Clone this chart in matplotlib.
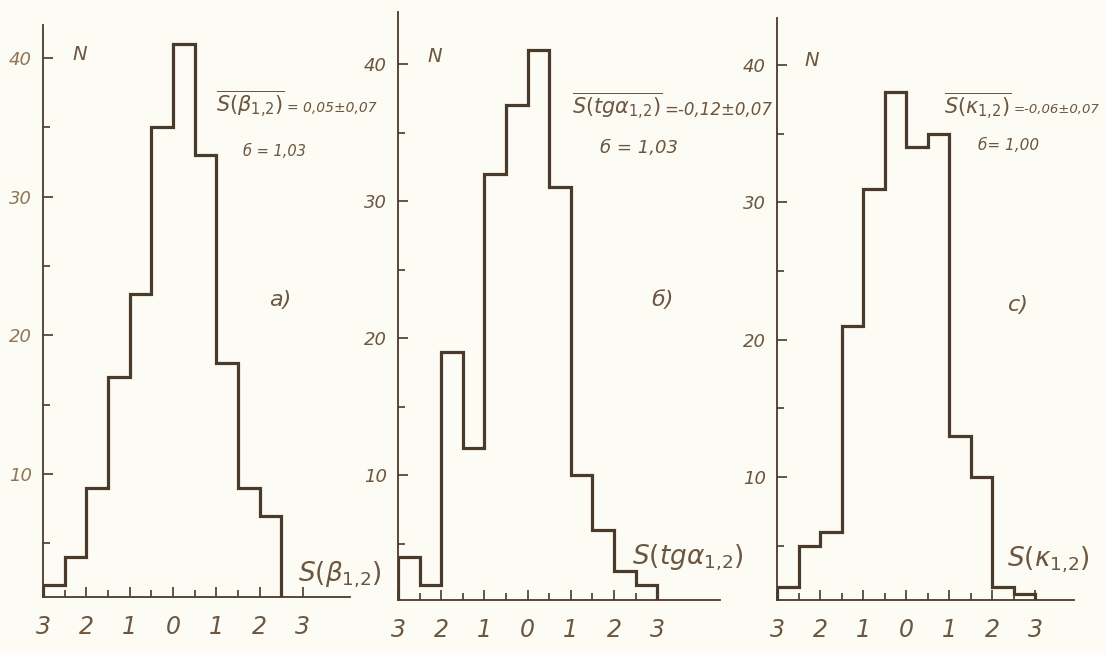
import numpy as np
import matplotlib
matplotlib.use("Agg")
import matplotlib.pyplot as plt
from matplotlib.ticker import FixedLocator

# bin edges (in units of sigma) and counts N for the three distributions
edges_beta = [-3, -2.5, -2, -1.5, -1, -0.5, 0, 0.5, 1, 1.5, 2, 2.5]
counts_beta = [2, 4, 9, 17, 23, 35, 41, 33, 18, 9, 7]

edges_tg = [-3, -2.5, -2, -1.5, -1, -0.5, 0, 0.5, 1, 1.5, 2, 2.5, 3]
counts_tg = [4, 2, 19, 12, 32, 37, 41, 31, 10, 6, 3, 2]

edges_kappa = [-3, -2.5, -2, -1.5, -1, -0.5, 0, 0.5, 1, 1.5, 2, 2.5, 3]
counts_kappa = [2, 5, 6, 21, 31, 38, 34, 35, 13, 10, 2, 1.5]

x_ticks = [-3, -2, -1, 0, 1, 2, 3]
x_tick_labels = ["3", "2", "1", "0", "1", "2", "3"]
y_ticks = [10, 20, 30, 40]

panel_tags = ["a)", "б)", "c)"]
mean_names = [r"$\overline{S(\beta_{1{,}2})}$", r"$\overline{S(tg\alpha_{1{,}2})}$",
              r"$\overline{S(\kappa_{1{,}2})}$"]
mean_values = ["= 0,05±0,07", "=-0,12±0,07", "=-0,06±0,07"]
sigma_texts = ["б = 1,03", "б = 1,03", "б= 1,00"]
axis_names = [r"$S(\beta_{1{,}2})$", r"$S(tg\alpha_{1{,}2})$", r"$S(\kappa_{1{,}2})$"]

W, H = 1106, 653
BG = "#fcfbf4"
INK = "#4a3a2a"
TXT = "#6b5640"


def fx(x):
    return x / W


def fy(y):
    return 1 - y / H


fig = plt.figure(figsize=(W / 100, H / 100), dpi=100, facecolor=BG)

# per panel: pixel of S=-3, px per unit in x, pixel rows of N=40 and N=10,
# lowest shown N, right end of x axis, top of the N axis
layout = [
    dict(x0=43, xu=43.3, y40=58, y10=474, ybot=1.1, xmax=4.1, ytop=42.4, tcol="#8f7657"),
    dict(x0=398, xu=43.2, y40=64, y10=475, ybot=0.9, xmax=4.45, ytop=43.8, tcol=TXT),
    dict(x0=777, xu=43.0, y40=65, y10=477, ybot=1.05, xmax=3.9, ytop=43.4, tcol=TXT),
]
data = [(edges_beta, counts_beta), (edges_tg, counts_tg), (edges_kappa, counts_kappa)]

YTOP = 44.5
for i, (lay, (edges, counts)) in enumerate(zip(layout, data)):
    yu = (lay["y10"] - lay["y40"]) / 30.0
    pix = lambda v: lay["y40"] + (40 - v) * yu
    left = lay["x0"]
    right = lay["x0"] + (lay["xmax"] + 3) * lay["xu"]
    bottom = pix(lay["ybot"])
    top = pix(YTOP)
    ax = fig.add_axes([fx(left), fy(bottom), fx(right - left), (bottom - top) / H])
    ax.set_facecolor("none")

    ax.stairs(counts, edges, baseline=0, color=INK, linewidth=2.3, fill=False)

    ax.set_xlim(-3, lay["xmax"])
    ax.set_ylim(lay["ybot"], YTOP)
    for s in ["top", "right"]:
        ax.spines[s].set_visible(False)
    for s in ["left", "bottom"]:
        ax.spines[s].set_color(INK)
        ax.spines[s].set_linewidth(1.3)
    ax.spines["left"].set_bounds(lay["ybot"], lay["ytop"])

    ax.set_xticks(x_ticks)
    ax.set_xticklabels(x_tick_labels)
    ax.xaxis.set_minor_locator(FixedLocator([-2.5, -1.5, -0.5, 0.5, 1.5, 2.5]))
    ax.set_yticks(y_ticks)
    ax.yaxis.set_minor_locator(FixedLocator([5, 15, 25, 35]))
    ax.tick_params(axis="both", which="both", direction="in", color=INK, width=1.2)
    ax.tick_params(axis="both", which="major", length=7)
    ax.tick_params(axis="both", which="minor", length=5)
    ax.tick_params(axis="x", labelsize=17, labelcolor=TXT, pad=13)
    ax.tick_params(axis="y", labelsize=13, labelcolor=lay["tcol"], pad=8)
    for lbl in ax.get_xticklabels() + ax.get_yticklabels():
        lbl.set_style("italic")

# annotation texts, placed in pixel rows/columns of the figure
n_pos = [(80, 54), (435, 56), (812, 60)]
tag_pos = [(280, 300), (662, 300), (1018, 305)]
mean_pos = [(216, 104), (572, 106), (944, 106)]
mean_size = [15, 15, 15]
value_dy = [4, 4, 4]
value_size = [10, 12, 9.5]
sigma_pos = [(243, 151), (600, 148), (978, 145)]
sigma_size = [10.5, 13, 11]
axname_pos = [(298, 575), (632, 558), (1007, 560)]
axname_col = ["#6b5640", TXT, TXT]

fig.canvas.draw()
renderer = fig.canvas.get_renderer()
for i in range(3):
    fig.text(fx(n_pos[i][0]), fy(n_pos[i][1]), "N", fontsize=14, style="italic",
             color=TXT, ha="center", va="center")
    fig.text(fx(tag_pos[i][0]), fy(tag_pos[i][1]), panel_tags[i], fontsize=16,
             style="italic", color=TXT, ha="center", va="center")
    name = fig.text(fx(mean_pos[i][0]), fy(mean_pos[i][1]), mean_names[i],
                    fontsize=mean_size[i], color=TXT, ha="left", va="center")
    # the value follows right after the overlined name
    bb = name.get_window_extent(renderer)
    fig.text((bb.x1 + 2) / W, fy(mean_pos[i][1] + value_dy[i]), mean_values[i],
             fontsize=value_size[i], style="italic", color=TXT, ha="left", va="center")
    fig.text(fx(sigma_pos[i][0]), fy(sigma_pos[i][1]), sigma_texts[i],
             fontsize=sigma_size[i], style="italic", color=TXT, ha="left", va="center")
    fig.text(fx(axname_pos[i][0]), fy(axname_pos[i][1]), axis_names[i], fontsize=19,
             color=axname_col[i], ha="left", va="center")

fig.savefig("out.png", dpi=100, facecolor=BG)
